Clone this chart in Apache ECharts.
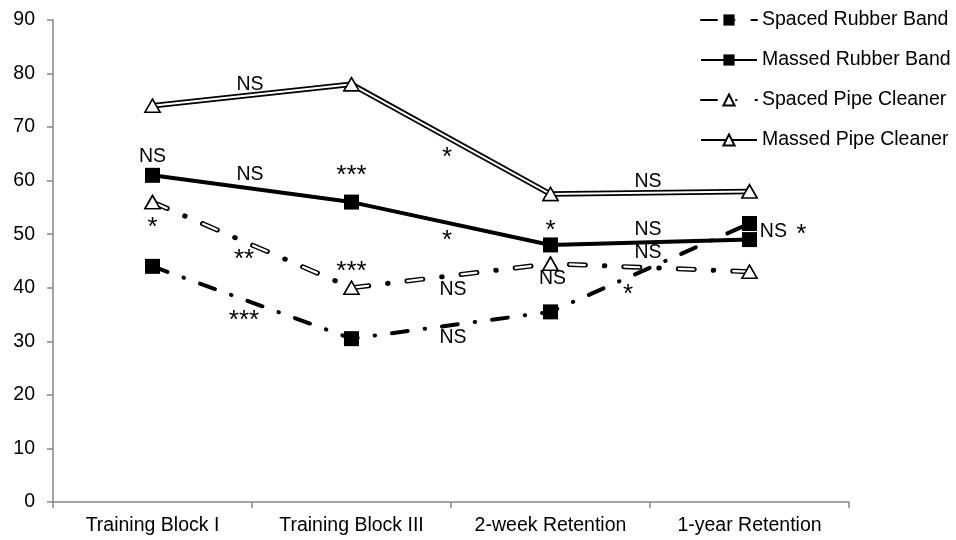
<!DOCTYPE html>
<html>
<head>
<meta charset="utf-8">
<script src="https://cdn.jsdelivr.net/npm/echarts@6/dist/echarts.min.js"></script>
<style>
  html, body { margin: 0; padding: 0; background: #fff; }
  #chart { width: 956px; height: 540px; }
</style>
</head>
<body>
<div id="chart"></div>
<script>
// Test occasions along the x axis
const categories = ['Training Block I', 'Training Block III', '2-week Retention', '1-year Retention'];

// Mean scores per group
const spacedRubberBand = [44, 30.5, 35.5, 52];
const massedRubberBand = [61, 56, 48, 49];
const spacedPipeCleaner = [56, 40, 44.5, 43];
const massedPipeCleaner = [74, 78, 57.5, 58];

// Y axis range
const yMin = 0, yMax = 90, yStep = 10;

// Significance marks: text, position along the occasions (0 = first), score level
const markTexts = [
  'NS', 'NS', 'NS', '***', '*',
  '*', '**', '***', '***', '*',
  'NS', 'NS', '*', 'NS', 'NS',
  'NS', 'NS', '*', 'NS', '*'
];
const markX = [
  0.49, 0.0, 0.49, 1.0, 1.48,
  0.0, 0.46, 1.0, 0.46, 1.48,
  1.51, 1.51, 2.0, 2.01, 2.49,
  2.49, 2.49, 2.39, 3.12, 3.26
];
const markY = [
  77.9, 64.4, 61.1, 60.9, 64.3,
  51.2, 45.2, 43.0, 33.8, 48.7,
  39.6, 30.6, 50.6, 41.8, 59.9,
  50.8, 46.5, 38.7, 50.4, 49.8
];

const FONT = 'Liberation Sans';
const FS = 19.5;
const STAR_FS = 26;
const AXIS_GREY = '#868686';

const chart = echarts.init(document.getElementById('chart'), null, { renderer: 'canvas' });

const squareStyle = { color: '#000', borderColor: '#000', borderWidth: 0 };
const triangleStyle = { color: '#fff', borderColor: '#000', borderWidth: 1.5 };

const markData = markTexts.map((t, i) => ({
  value: [markX[i], markY[i]],
  label: { fontFamily: FONT, fontSize: t.charAt(0) === '*' ? STAR_FS : FS }
}));

const series = [
  {
    name: 'Spaced Rubber Band', type: 'line', data: spacedRubberBand, z: 2,
    symbol: 'rect', symbolSize: 15, itemStyle: squareStyle,
    lineStyle: { color: '#000', width: 4, type: [16, 17, 0.5, 17], cap: 'round' }
  },
  {
    name: 'Massed Rubber Band', type: 'line', data: massedRubberBand, z: 2,
    symbol: 'rect', symbolSize: 15, itemStyle: squareStyle,
    lineStyle: { color: '#000', width: 4, type: 'solid' }
  },
  {
    name: 'Spaced Pipe Cleaner', type: 'line', data: spacedPipeCleaner, z: 2,
    symbol: 'triangle', symbolSize: [15, 13], itemStyle: triangleStyle,
    lineStyle: { color: '#000', width: 5, type: [16, 19, 0.5, 19], cap: 'round' }
  },
  {
    // white core of the outlined dashes
    name: 'spacedPipeCore', type: 'line', data: spacedPipeCleaner, z: 3,
    symbol: 'none', silent: true,
    lineStyle: { color: '#fff', width: 2.2, type: [15, 39.5], dashOffset: -0.5, cap: 'round' }
  },
  {
    name: 'Massed Pipe Cleaner', type: 'line', data: massedPipeCleaner, z: 2,
    symbol: 'triangle', symbolSize: [15, 13], itemStyle: triangleStyle,
    lineStyle: { color: '#000', width: 5.5, type: 'solid' }
  },
  {
    // white core of the double line
    name: 'massedPipeCore', type: 'line', data: massedPipeCleaner, z: 3,
    symbol: 'none', silent: true,
    lineStyle: { color: '#fff', width: 2, type: 'solid' }
  },
  {
    // open triangles drawn above the white cores
    name: 'pipeMarkers', type: 'line', z: 4, silent: true,
    data: spacedPipeCleaner, symbol: 'triangle', symbolSize: [15, 13], showAllSymbol: true,
    itemStyle: triangleStyle, lineStyle: { width: 0, opacity: 0 }
  },
  {
    name: 'pipeMarkers2', type: 'line', z: 4, silent: true,
    data: massedPipeCleaner, symbol: 'triangle', symbolSize: [15, 13], showAllSymbol: true,
    itemStyle: triangleStyle, lineStyle: { width: 0, opacity: 0 }
  },
  {
    name: 'marks', type: 'scatter', xAxisIndex: 1, z: 5, silent: true,
    symbolSize: 0,
    itemStyle: { opacity: 1 },
    data: markData,
    label: {
      show: true, position: 'inside',
      formatter: p => markTexts[p.dataIndex],
      color: '#000', opacity: 1
    }
  }
];

chart.setOption({
  animation: false,
  backgroundColor: '#fff',
  textStyle: { fontFamily: FONT },
  grid: { left: 53, right: 107, top: 20, bottom: 38, containLabel: false },
  legend: {
    orient: 'vertical', left: 695, top: 5,
    itemWidth: 56, itemHeight: 14, itemGap: 20,
    selectedMode: false,
    data: ['Spaced Rubber Band', 'Massed Rubber Band', 'Spaced Pipe Cleaner', 'Massed Pipe Cleaner'],
    textStyle: { color: '#000', fontFamily: FONT, fontSize: FS }
  },
  xAxis: [
    {
      type: 'category', data: categories, boundaryGap: true,
      axisLine: { show: true, onZero: false, lineStyle: { color: AXIS_GREY, width: 1.5 } },
      axisTick: { show: true, length: 6, lineStyle: { color: AXIS_GREY, width: 1.5 } },
      axisLabel: { color: '#000', fontFamily: FONT, fontSize: FS, margin: 14 },
      splitLine: { show: false }
    },
    { type: 'value', min: -0.5, max: 3.5, show: false }
  ],
  yAxis: {
    type: 'value', min: yMin, max: yMax, interval: yStep,
    axisLine: { show: true, onZero: false, lineStyle: { color: AXIS_GREY, width: 1.5 } },
    axisTick: { show: true, length: 6, lineStyle: { color: AXIS_GREY, width: 1.5 } },
    axisLabel: { color: '#000', fontFamily: FONT, fontSize: FS, margin: 18 },
    splitLine: { show: false }
  },
  series: series
});
</script>
</body>
</html>
